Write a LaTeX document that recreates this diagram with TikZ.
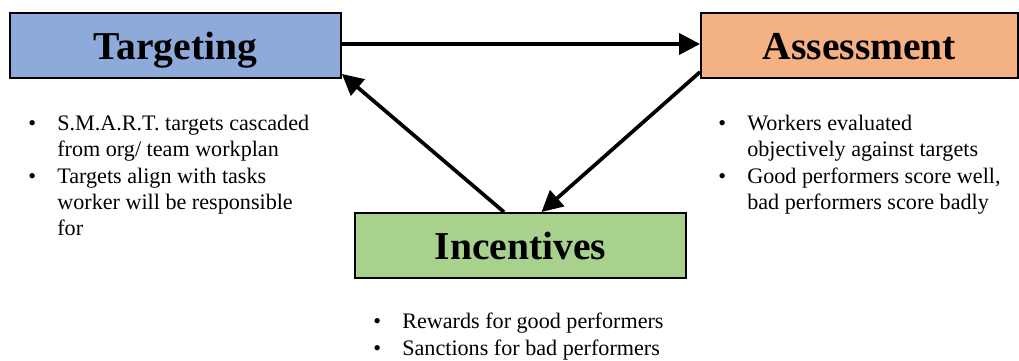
\documentclass[tikz,border=0pt]{standalone}
\usepackage{fontspec}
\setmainfont{Liberation Serif}
\usepackage{array}
\usetikzlibrary{arrows.meta}
\definecolor{tgtblue}{HTML}{8EAADB}
\definecolor{asmorange}{HTML}{F4B183}
\definecolor{incgreen}{HTML}{A9D18E}

\begin{document}
\begin{tikzpicture}[x=0.02cm,y=-0.02cm,
    stage/.style={draw=black,line width=1.1pt,minimum width=6.62cm,minimum height=1.3cm,
      inner sep=0pt,text height=16.5pt,text depth=0pt,font=\fontsize{22.5}{27}\selectfont\bfseries},
    notes/.style={anchor=base west,inner sep=0pt,font=\fontsize{12.6}{14.8}\selectfont},
    flow/.style={-{Triangle[length=0.42cm,width=0.42cm]},line width=2.1pt}]
  \useasboundingbox (0,0) rectangle (1019,361);
  % the three stages
  \node[stage,fill=tgtblue] (tgt) at (175.5,45.5) {Targeting};
  \node[stage,fill=asmorange,minimum width=6.34cm] (asm) at (859.5,45.5) {Assessment};
  \node[stage,fill=incgreen] (inc) at (520.5,245.5) {Incentives};
  % the cycle
  \draw[flow] ([yshift=0.03cm]tgt.east) -- ([yshift=0.03cm]asm.west);
  \draw[flow] ([yshift=0.14cm]asm.south west) -- ([xshift=0.42cm]inc.north);
  \draw[flow] ([xshift=-0.33cm]inc.north) -- ([yshift=0.1cm]tgt.south east);
  % notes under each stage
  \node[notes] (tgtnotes) at (28,131) {\begin{tabular}[t]{@{}p{0.58cm}@{}l@{}}
    \textbullet & S.M.A.R.T. targets cascaded\\
     & from org/ team workplan\\
    \textbullet & Targets align with tasks\\
     & worker will be responsible\\
     & for
  \end{tabular}};
  \node[notes] (asmnotes) at (718,131) {\begin{tabular}[t]{@{}p{0.58cm}@{}l@{}}
    \textbullet & Workers evaluated\\
     & objectively against targets\\
    \textbullet & Good performers score well,\\
     & bad performers score badly
  \end{tabular}};
  \node[notes] (incnotes) at (373,329) {\begin{tabular}[t]{@{}p{0.58cm}@{}l@{}}
    \textbullet & Rewards for good performers\\
    \textbullet & Sanctions for bad performers
  \end{tabular}};
\end{tikzpicture}
\end{document}
